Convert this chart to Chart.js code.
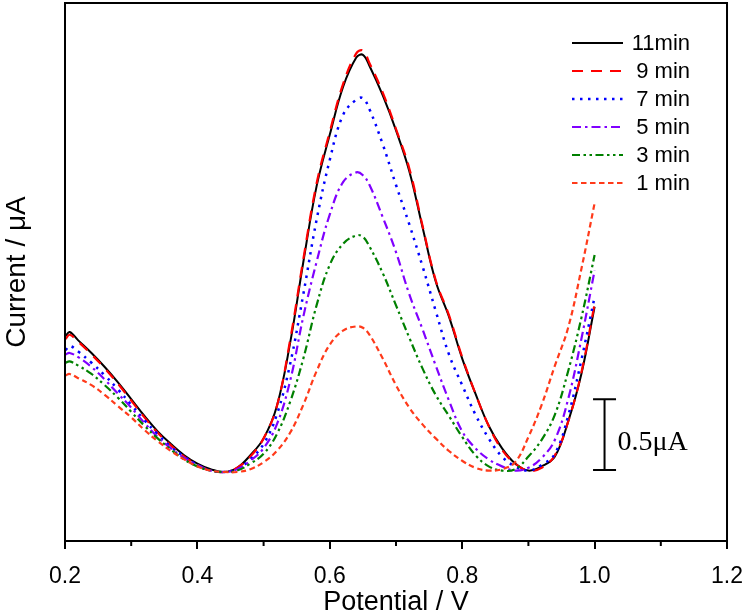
<!DOCTYPE html>
<html>
<head>
<meta charset="utf-8">
<script src="https://cdn.jsdelivr.net/npm/chart.js@4.4.0/dist/chart.umd.min.js"></script>
<style>
  body { margin: 0; background: #fff; }
  canvas { display: block; }
</style>
</head>
<body>
<canvas id="chart" width="744" height="616"></canvas>
<script>
// Potential (V) sample points shared by all curves
const potential = [0.201, 0.207, 0.22, 0.24, 0.26, 0.28, 0.30, 0.32, 0.34, 0.36, 0.38, 0.40, 0.42, 0.44, 0.46,
  0.48, 0.50, 0.52, 0.54, 0.56, 0.58, 0.60, 0.62, 0.64, 0.65, 0.66, 0.68, 0.70, 0.72, 0.74, 0.76, 0.78, 0.80,
  0.82, 0.84, 0.86, 0.88, 0.90, 0.92, 0.94, 0.96, 0.98, 1.00];

// Current (uA, arbitrary offset)
const current11 = [1.42, 1.45, 1.39, 1.30, 1.20, 1.09, 0.97, 0.85, 0.74, 0.65, 0.57, 0.51, 0.47, 0.45, 0.48,
  0.57, 0.69, 0.92, 1.37, 1.95, 2.49, 2.86, 3.20, 3.41, 3.43, 3.35, 3.14, 2.89, 2.60, 2.20, 1.81, 1.56, 1.26,
  1.01, 0.78, 0.62, 0.51, 0.46, 0.49, 0.56, 0.81, 1.15, 1.63];
const current9 = [1.40, 1.43, 1.38, 1.29, 1.19, 1.08, 0.96, 0.84, 0.73, 0.64, 0.56, 0.50, 0.46, 0.45, 0.48,
  0.56, 0.69, 0.92, 1.39, 1.97, 2.51, 2.88, 3.22, 3.44, 3.46, 3.37, 3.16, 2.90, 2.62, 2.21, 1.82, 1.57, 1.27,
  1.01, 0.78, 0.61, 0.51, 0.46, 0.48, 0.57, 0.81, 1.16, 1.65];
const current7 = [1.32, 1.35, 1.31, 1.23, 1.14, 1.04, 0.93, 0.82, 0.72, 0.63, 0.56, 0.50, 0.46, 0.45, 0.47,
  0.54, 0.65, 0.86, 1.22, 1.72, 2.25, 2.68, 3.00, 3.11, 3.12, 3.04, 2.79, 2.50, 2.22, 1.92, 1.60, 1.29, 1.07,
  0.86, 0.69, 0.56, 0.49, 0.46, 0.50, 0.58, 0.85, 1.25, 1.70];
const current5 = [1.29, 1.30, 1.27, 1.20, 1.11, 1.01, 0.91, 0.80, 0.70, 0.62, 0.55, 0.50, 0.46, 0.45, 0.47,
  0.53, 0.62, 0.79, 1.10, 1.56, 1.95, 2.29, 2.52, 2.59, 2.57, 2.50, 2.27, 2.02, 1.72, 1.47, 1.21, 0.96, 0.74,
  0.62, 0.54, 0.49, 0.46, 0.48, 0.55, 0.68, 0.97, 1.40, 1.89];
const current3 = [1.23, 1.24, 1.21, 1.15, 1.07, 0.98, 0.88, 0.78, 0.69, 0.61, 0.54, 0.49, 0.46, 0.45, 0.46,
  0.51, 0.58, 0.72, 0.95, 1.26, 1.64, 1.93, 2.08, 2.14, 2.13, 2.06, 1.87, 1.64, 1.41, 1.19, 1.00, 0.85, 0.70,
  0.57, 0.49, 0.46, 0.47, 0.56, 0.68, 0.86, 1.17, 1.55, 2.00];
const current1 = [1.14, 1.15, 1.12, 1.07, 1.00, 0.92, 0.84, 0.75, 0.67, 0.60, 0.54, 0.49, 0.46, 0.45, 0.45,
  0.47, 0.52, 0.60, 0.73, 0.93, 1.17, 1.36, 1.46, 1.49, 1.48, 1.43, 1.26, 1.07, 0.91, 0.79, 0.69, 0.60, 0.53,
  0.48, 0.46, 0.47, 0.52, 0.70, 0.93, 1.21, 1.48, 1.90, 2.37];

const seriesLabels = ['11min', '9 min', '7 min', '5 min', '3 min', '1 min'];
const xTicks = [0.2, 0.4, 0.6, 0.8, 1.0, 1.2];
const xMinorTicks = [0.3, 0.5, 0.7, 0.9, 1.1];
// scale bar: x position, bottom and top current
const scaleBar = [1.015, 0.465, 0.97];
const scaleBarLabel = '0.5\u03bcA';
const yTitle = 'Current / \u03bcA';

const sans = "'Liberation Sans', Arial, sans-serif";
const serif = "'Liberation Serif', 'Times New Roman', serif";

function series(label, values, color, dash, width, order) {
  return {
    label: label,
    data: values.map((v, i) => ({ x: potential[i], y: v })),
    borderColor: color,
    borderDash: dash,
    borderWidth: width,
    pointRadius: 0,
    fill: false,
    tension: 0.4,
    order: order
  };
}

const datasets = [
  series(seriesLabels[0], current11, '#000000', [], 2, 6),
  series(seriesLabels[1], current9, '#ff0000', [11, 8], 2.2, 5),
  series(seriesLabels[2], current7, '#0000ff', [2.5, 5.5], 2.5, 4),
  series(seriesLabels[3], current5, '#8000ff', [9, 4, 2.5, 4], 2.2, 3),
  series(seriesLabels[4], current3, '#008000', [8, 3.5, 2.5, 3.5, 2.5, 3.5], 2.2, 2),
  series(seriesLabels[5], current1, '#ff3a1a', [5.5, 3.5], 2.2, 1)
];

const decor = {
  id: 'decor',
  afterDatasetsDraw(chart) {
    const { ctx, chartArea: a, scales: { x, y } } = chart;
    ctx.save();
    ctx.strokeStyle = '#000';
    ctx.lineWidth = 2;
    ctx.setLineDash([]);
    ctx.strokeRect(a.left, a.top, a.right - a.left, a.bottom - a.top);

    // minor ticks
    ctx.beginPath();
    xMinorTicks.forEach(v => {
      const px = x.getPixelForValue(v);
      ctx.moveTo(px, a.bottom);
      ctx.lineTo(px, a.bottom + 5);
    });
    ctx.stroke();

    // scale bar
    const bx = x.getPixelForValue(scaleBar[0]);
    const by0 = y.getPixelForValue(scaleBar[1]);
    const by1 = y.getPixelForValue(scaleBar[2]);
    ctx.beginPath();
    ctx.moveTo(bx, by0); ctx.lineTo(bx, by1);
    ctx.moveTo(bx - 11.5, by0); ctx.lineTo(bx + 11.5, by0);
    ctx.moveTo(bx - 11.5, by1); ctx.lineTo(bx + 11.5, by1);
    ctx.stroke();
    ctx.fillStyle = '#000';
    ctx.font = '28px ' + serif;
    ctx.textAlign = 'left';
    ctx.textBaseline = 'middle';
    ctx.fillText(scaleBarLabel, bx + 13, (by0 + by1) / 2 + 8);

    // y axis title
    ctx.save();
    ctx.translate(17, (a.top + a.bottom) / 2);
    ctx.rotate(-Math.PI / 2);
    ctx.textAlign = 'center';
    ctx.font = '28px ' + sans;
    ctx.fillText(yTitle, 0, 0);
    ctx.restore();

    // legend
    ctx.font = '22px ' + sans;
    ctx.textAlign = 'right';
    chart.data.datasets.forEach((ds, i) => {
      const ly = 43 + i * 28;
      ctx.strokeStyle = ds.borderColor;
      ctx.lineWidth = ds.borderWidth;
      ctx.setLineDash(ds.borderDash);
      ctx.beginPath();
      ctx.moveTo(572, ly);
      ctx.lineTo(623, ly);
      ctx.stroke();
      ctx.fillText(ds.label, 690, ly + 1);
    });
    ctx.restore();
  }
};

new Chart(document.getElementById('chart'), {
  type: 'line',
  data: { datasets: datasets },
  plugins: [decor],
  options: {
    responsive: false,
    animation: false,
    layout: { padding: { top: 3, right: 0, left: 0, bottom: 0 } },
    plugins: { legend: { display: false }, tooltip: { enabled: false } },
    scales: {
      x: {
        type: 'linear',
        min: 0.2,
        max: 1.2,
        afterBuildTicks: s => { s.ticks = xTicks.map(v => ({ value: v })); },
        afterFit: s => { s.height = 75; },
        border: { display: false },
        grid: { drawOnChartArea: false, tickLength: 8, color: '#000', lineWidth: 2 },
        ticks: {
          autoSkip: false,
          maxRotation: 0,
          padding: 1,
          color: '#000',
          // tall line box pushes the labels down while the small padding keeps the right edge at 727
          font: { family: sans, size: 23, lineHeight: 2.35 },
          callback: v => v.toFixed(1)
        },
        title: {
          display: true,
          text: 'Potential / V',
          color: '#000',
          font: { family: sans, size: 27, lineHeight: 1 },
          padding: { top: 0, bottom: 0 }
        }
      },
      y: {
        type: 'linear',
        min: -0.043,
        max: 3.8,
        afterFit: s => { s.width = 65; },
        border: { display: false },
        grid: { display: false },
        ticks: { display: false },
        title: { display: false }
      }
    }
  }
});
</script>
</body>
</html>
